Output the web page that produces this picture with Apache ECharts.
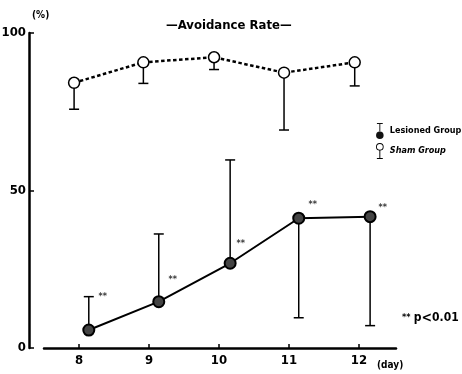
<!DOCTYPE html>
<html>
<head>
<meta charset="utf-8">
<script src="https://cdn.jsdelivr.net/npm/echarts@6/dist/echarts.min.js"></script>
<style>html,body{margin:0;padding:0;background:#fff;}#c{width:462px;height:374px;}</style>
</head>
<body>
<div id="c"></div>
<script>
// ---- data ----
const days = [8, 9, 10, 11, 12];
const yTicks = [0, 50, 100];
const shamX = [7.93, 8.92, 9.93, 10.93, 11.94];
const shamMean = [84.2, 90.7, 92.3, 87.4, 90.7];
const shamErrEnd = [75.8, 84.0, 88.4, 69.2, 83.2];
const lesionedX = [8.14, 9.14, 10.16, 11.14, 12.16];
const lesionedMean = [5.7, 14.7, 26.9, 41.2, 41.7];
const lesionedErrEnd = [16.3, 36.2, 59.7, 9.6, 7.1];
const sigX = [8.34, 9.34, 10.31, 11.34, 12.34];
const sigY = [16.3, 21.6, 33.0, 45.4, 44.4];
const sigText = ['**', '**', '**', '**', '**'];

const FONT = '"Liberation Sans Narrow", "DejaVu Sans Condensed", "Liberation Sans", sans-serif';

function pairs(xs, ys) { return xs.map((x, i) => [x, ys[i]]); }
function errData(xs, m, e) { return xs.map((x, i) => [x, m[i], e[i]]); }

function errRender(params, api) {
  const p0 = api.coord([api.value(0), api.value(1)]);
  const p1 = api.coord([api.value(0), api.value(2)]);
  const hw = 5;
  const st = { stroke: '#000', lineWidth: 1.5 };
  return {
    type: 'group',
    children: [
      { type: 'line', shape: { x1: p0[0], y1: p0[1], x2: p1[0], y2: p1[1] }, style: st },
      { type: 'line', shape: { x1: p1[0] - hw, y1: p1[1], x2: p1[0] + hw, y2: p1[1] }, style: st }
    ]
  };
}

const lesIcon = 'path://M5 0H15V1.6H5Z M9.2 0H10.8V14H9.2Z M3.5 21A6.5 6.5 0 1 0 16.5 21A6.5 6.5 0 1 0 3.5 21Z';
const shamIcon = 'path://M3.5 7A6.5 6.5 0 1 1 16.5 7A6.5 6.5 0 1 1 3.5 7Z M5 7A5 5 0 1 0 15 7A5 5 0 1 0 5 7Z M9.2 13H10.8V26H9.2Z M5 26H15V27.6H5Z';

const chart = echarts.init(document.getElementById('c'), null, { renderer: 'canvas' });
chart.setOption({
  animation: false,
  backgroundColor: '#fff',
  textStyle: { fontFamily: FONT },
  grid: { left: 44, right: 66, top: 33, bottom: 26, outerBoundsMode: 'none', containLabel: false },
  xAxis: {
    type: 'value', min: 7.5, max: 12.53,
    splitLine: { show: false },
    axisLine: { show: true, onZero: false, lineStyle: { color: '#000', width: 2.5 } },
    axisTick: { show: true, inside: true, length: 4, lineStyle: { color: '#000', width: 1.5 }, customValues: days },
    axisLabel: { show: true, customValues: days, color: '#000', fontFamily: FONT, fontWeight: 'bold', fontSize: 13, margin: 6 }
  },
  yAxis: {
    type: 'value', min: 0, max: 100, interval: 50, offset: 15,
    splitLine: { show: false },
    axisLine: { show: true, lineStyle: { color: '#000', width: 2.5 } },
    axisTick: { show: true, inside: true, length: 5, lineStyle: { color: '#000', width: 1.5 }, customValues: yTicks },
    axisLabel: { customValues: yTicks, color: '#000', fontFamily: FONT, fontWeight: 'bold', fontSize: 13, margin: 3 }
  },
  legend: {
    orient: 'vertical', left: 371, top: 118, itemGap: 4,
    itemWidth: 10, itemHeight: 16,
    textStyle: { color: '#000', fontFamily: FONT, fontWeight: 'bold', fontSize: 9 },
    data: [
      { name: 'Lesioned Group', icon: lesIcon, itemStyle: { color: '#111', borderWidth: 0 } },
      { name: 'Sham Group', icon: shamIcon, itemStyle: { color: '#000', borderWidth: 0 }, textStyle: { fontStyle: 'italic' } }
    ]
  },
  graphic: [
    { type: 'text', left: 166, top: 19, style: { text: '\u2014Avoidance Rate\u2014', font: 'bold 13px ' + FONT, fill: '#000' } },
    { type: 'text', left: 32, top: 10, style: { text: '(%)', font: 'bold 10px ' + FONT, fill: '#000' } },
    { type: 'text', left: 377, top: 360, style: { text: '(day)', font: 'bold 10px ' + FONT, fill: '#000' } },
    { type: 'text', left: 402, top: 311, style: {
        text: '{a|**} {b|p}{c|<}{b|0.01}', fill: '#000',
        rich: {
          a: { fontFamily: FONT, fontWeight: 'bold', fontSize: 9, verticalAlign: 'middle' },
          b: { fontFamily: FONT, fontWeight: 'bold', fontSize: 12, verticalAlign: 'middle' },
          c: { fontFamily: FONT, fontWeight: 'bold', fontSize: 14, verticalAlign: 'middle' }
        } } }
  ],
  series: [
    {
      name: 'Sham Error', type: 'custom', renderItem: errRender,
      data: errData(shamX, shamMean, shamErrEnd), z: 1
    },
    {
      name: 'Lesioned Error', type: 'custom', renderItem: errRender,
      data: errData(lesionedX, lesionedMean, lesionedErrEnd), z: 1
    },
    {
      name: 'Sham Group', type: 'line', data: pairs(shamX, shamMean),
      symbol: 'circle', symbolSize: 11,
      lineStyle: { color: '#000', width: 2.5, type: [3.5, 2.5] },
      itemStyle: { color: '#fff', borderColor: '#000', borderWidth: 1.5 },
      z: 3
    },
    {
      name: 'Lesioned Group', type: 'line', data: pairs(lesionedX, lesionedMean),
      symbol: 'circle', symbolSize: 11,
      lineStyle: { color: '#000', width: 2 },
      itemStyle: { color: '#444', borderColor: '#000', borderWidth: 2 },
      z: 3
    },
    {
      name: 'sig', type: 'scatter', data: pairs(sigX, sigY), symbolSize: 1,
      itemStyle: { color: 'rgba(0,0,0,0)' },
      label: { show: true, position: 'inside', formatter: p => sigText[p.dataIndex], color: '#000', fontFamily: FONT, fontWeight: 'bold', fontSize: 9 },
      silent: true, z: 4
    }
  ]
});
</script>
</body>
</html>
